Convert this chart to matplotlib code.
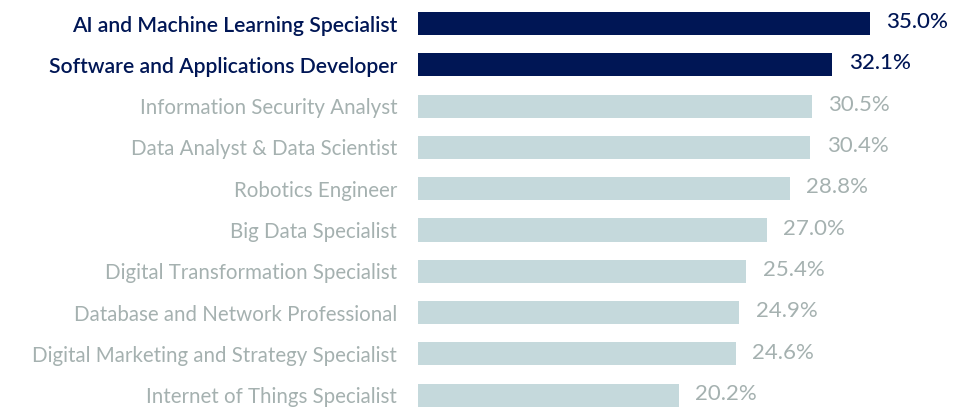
import matplotlib.pyplot as plt

# Data
roles = ['AI and Machine Learning Specialist', 'Software and Applications Developer',
         'Information Security Analyst', 'Data Analyst & Data Scientist',
         'Robotics Engineer', 'Big Data Specialist', 'Digital Transformation Specialist',
         'Database and Network Professional', 'Digital Marketing and Strategy Specialist',
         'Internet of Things Specialist']
values = [35.0, 32.1, 30.5, 30.4, 28.8, 27.0, 25.4, 24.9, 24.6, 20.2]
highlight = [True, True, False, False, False, False, False, False, False, False]

dark = '#001655'
bar_light = '#c5d9dc'
text_light = '#a5b1b0'

plt.rcParams['font.family'] = ['Lato', 'DejaVu Sans']

fig = plt.figure(figsize=(9.7, 4.08), dpi=100)
ax = fig.add_axes([418 / 970, 0, 552 / 970, 1])

pos = list(range(len(roles)))
colors = [dark if h else bar_light for h in highlight]
ax.barh(pos, values, height=0.56, color=colors)

ax.set_xlim(0, 552 / 12.91)
ax.set_ylim((408 - 23.5) / 41.3, -23.5 / 41.3)

ax.set_yticks(pos)
ax.set_yticklabels(roles)
ax.tick_params(axis='y', length=0, pad=15)
ax.tick_params(axis='x', bottom=False, labelbottom=False)
for lab, h in zip(ax.get_yticklabels(), highlight):
    lab.set_color(dark if h else text_light)
    lab.set_fontweight('semibold' if h else 'normal')
    lab.set_fontsize(15.2 if h else 14.8)

for p, v, h in zip(pos, values, highlight):
    ax.annotate(f'{v:.1f}%', (v, p), xytext=(12, 1), textcoords='offset points',
                va='center', ha='left', fontsize=16,
                color=dark if h else text_light,
                fontweight='medium' if h else 'normal')

for s in ax.spines.values():
    s.set_visible(False)

fig.savefig('out.png', dpi=100)
